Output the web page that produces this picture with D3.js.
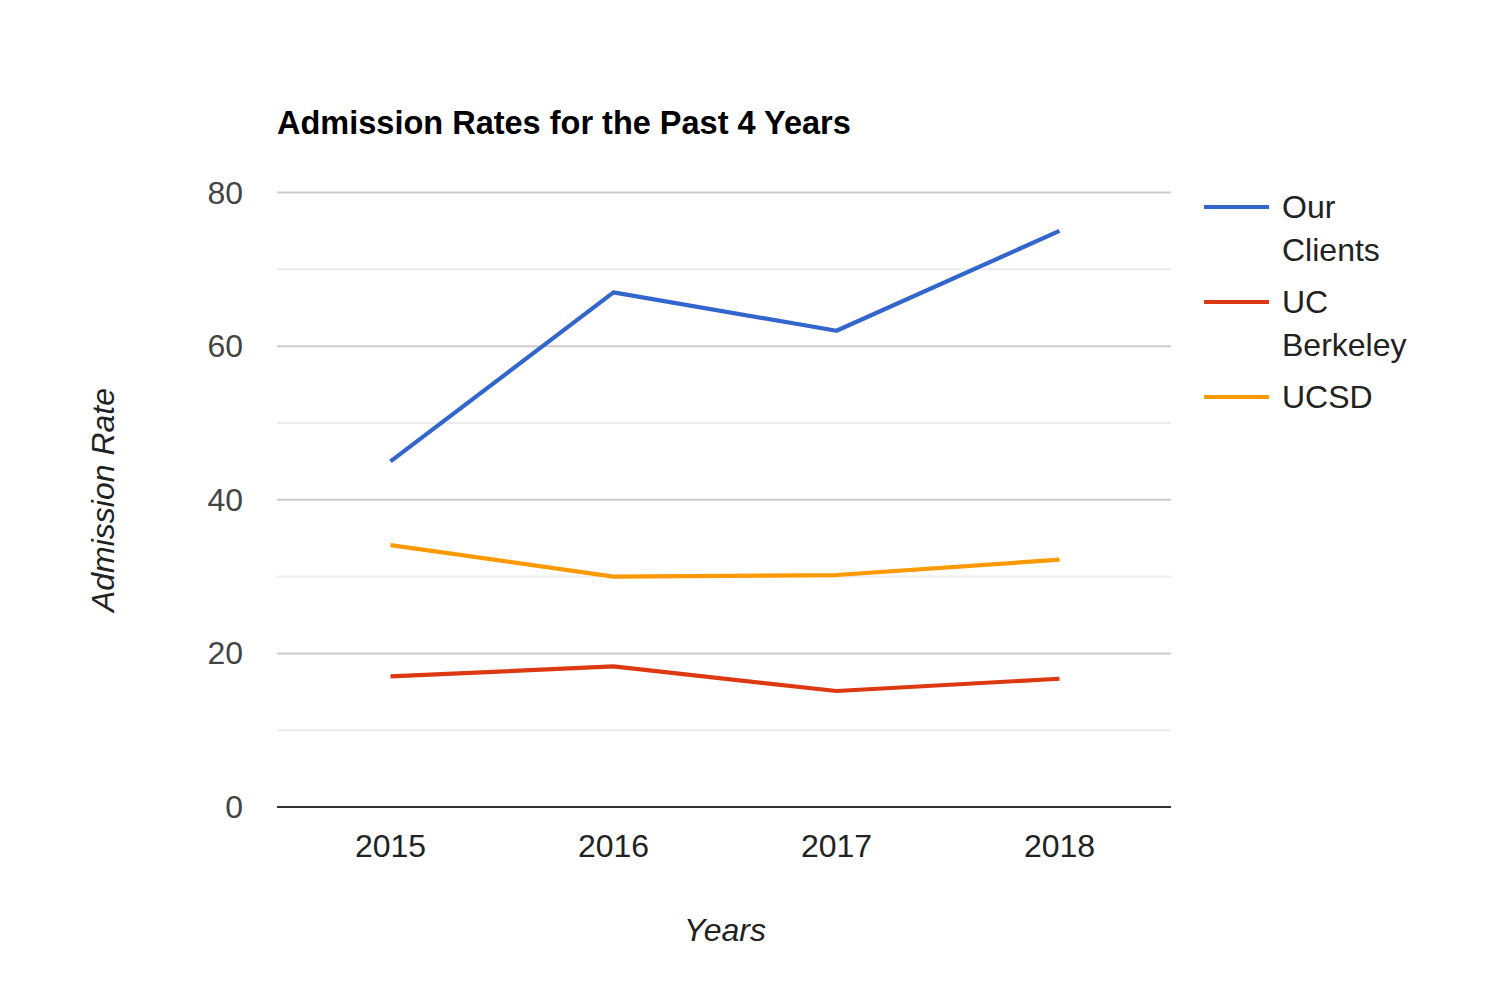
<!DOCTYPE html>
<html>
<head>
<meta charset="utf-8">
<script src="https://cdn.jsdelivr.net/npm/d3@7"></script>
<style>
  html, body { margin: 0; padding: 0; background: #fff; }
  svg { display: block; font-family: "Liberation Sans", Arial, sans-serif; }
</style>
</head>
<body>
<svg id="chart" width="1486" height="1005"></svg>
<script>
const years = ["2015", "2016", "2017", "2018"];
const seriesNames = ["Our Clients", "UC Berkeley", "UCSD"];
const seriesColors = ["#3366cc", "#dc3912", "#ff9900"];
const ourClients = [45, 67, 62, 75];
const ucBerkeley = [17, 18.3, 15.1, 16.7];
const ucsd = [34.1, 30, 30.2, 32.2];
const majorTicks = [0, 20, 40, 60, 80];
const minorTicks = [10, 30, 50, 70];
const titleText = "Admission Rates for the Past 4 Years";
const xTitle = "Years";
const yTitle = "Admission Rate";

const seriesValues = [ourClients, ucBerkeley, ucsd];

(function () {
const svg = d3.select("#chart");
const plotLeft = 277, plotRight = 1171, plotTop = 192.5, plotBottom = 807;

const x = d3.scalePoint().domain(years).range([plotLeft + 2, plotRight]).padding(0.5);
const y = d3.scaleLinear().domain([0, 80]).range([plotBottom, plotTop]);

// minor gridlines
svg.append("g").selectAll("line").data(minorTicks).join("line")
  .attr("x1", plotLeft).attr("x2", plotRight)
  .attr("y1", d => y(d)).attr("y2", d => y(d))
  .attr("stroke", "#ebebeb").attr("stroke-width", 2);

// major gridlines
svg.append("g").selectAll("line").data(majorTicks.filter(d => d !== 0)).join("line")
  .attr("x1", plotLeft).attr("x2", plotRight)
  .attr("y1", d => y(d)).attr("y2", d => y(d))
  .attr("stroke", "#cccccc").attr("stroke-width", 2);

// y tick labels
svg.append("g").selectAll("text").data(majorTicks).join("text")
  .attr("x", 243).attr("y", d => y(d) + 11)
  .attr("text-anchor", "end")
  .attr("font-size", 32).attr("fill", "#444")
  .text(d => d);

// x tick labels
svg.append("g").selectAll("text").data(years).join("text")
  .attr("x", d => x(d)).attr("y", 857)
  .attr("text-anchor", "middle")
  .attr("font-size", 32).attr("fill", "#222")
  .text(d => d);

// lines
const line = d3.line().x((d, i) => x(years[i])).y(d => y(d));
svg.append("g").selectAll("path").data(seriesValues).join("path")
  .attr("d", d => line(d))
  .attr("fill", "none")
  .attr("stroke", (d, i) => seriesColors[i])
  .attr("stroke-width", 4.2)
  .attr("stroke-linejoin", "round");

// baseline
svg.append("line")
  .attr("x1", plotLeft).attr("x2", plotRight)
  .attr("y1", y(0)).attr("y2", y(0))
  .attr("stroke", "#333").attr("stroke-width", 2);

// title
svg.append("text")
  .attr("x", plotLeft).attr("y", 134)
  .attr("font-size", 32.5).attr("font-weight", "bold").attr("fill", "#000")
  .text(titleText);

// axis titles
svg.append("text")
  .attr("x", 725).attr("y", 941)
  .attr("text-anchor", "middle")
  .attr("font-size", 32).attr("font-style", "italic").attr("fill", "#222")
  .text(xTitle);

svg.append("text")
  .attr("transform", "translate(114,500) rotate(-90)")
  .attr("text-anchor", "middle")
  .attr("font-size", 32).attr("font-style", "italic").attr("fill", "#222")
  .text(yTitle);

// legend
const legend = svg.append("g");
let ly = 207;
seriesNames.forEach((name, i) => {
  const words = name.split(" ");
  const lines = words.length > 1 && name.length > 6 ? words : [name];
  legend.append("line")
    .attr("x1", 1204).attr("x2", 1269)
    .attr("y1", ly).attr("y2", ly)
    .attr("stroke", seriesColors[i]).attr("stroke-width", 4);
  lines.forEach((t, j) => {
    legend.append("text")
      .attr("x", 1282).attr("y", ly + 11 + j * 43)
      .attr("font-size", 32).attr("fill", "#222")
      .text(t);
  });
  ly += lines.length * 43 + 9;
});
})();
</script>
</body>
</html>
